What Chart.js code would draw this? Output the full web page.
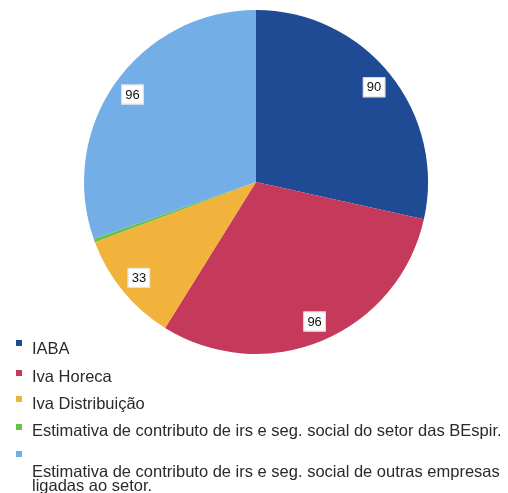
<!DOCTYPE html>
<html>
<head>
<meta charset="utf-8">
<script src="https://cdn.jsdelivr.net/npm/chart.js@4.4.0/dist/chart.umd.min.js"></script>
<style>
  html, body { margin:0; padding:0; background:#fff; }
  #wrap { width:508px; height:493px; }
</style>
</head>
<body>
<div id="wrap"><canvas id="pieChart" width="508" height="493"></canvas></div>
<script>
const labels = [
  'IABA',
  'Iva Horeca',
  'Iva Distribuição',
  'Estimativa de contributo de irs e seg. social do setor das BEspir.',
  'Estimativa de contributo de irs e seg. social de outras empresas ligadas ao setor.'
];
const values = [90, 96, 33, 1, 96];
const colors = ['#1f4a94', '#c53a5a', '#f2b33c', '#6cbf45', '#74aee6'];
// small slices get no value box
const showLabel = [true, true, true, false, true];

// white value boxes placed inside each slice
const valueBoxes = {
  id: 'valueBoxes',
  afterDatasetsDraw(chart) {
    const ctx = chart.ctx;
    const arcs = chart.getDatasetMeta(0).data;
    ctx.save();
    ctx.font = '13px "Liberation Sans", Arial, sans-serif';
    ctx.textAlign = 'center';
    ctx.textBaseline = 'middle';
    arcs.forEach((arc, i) => {
      if (!showLabel[i]) return;
      const p = arc.getProps(['x','y','startAngle','endAngle','outerRadius']);
      const mid = (p.startAngle + p.endAngle) / 2;
      const r = p.outerRadius * 0.88;
      const x = p.x + Math.cos(mid) * r;
      const y = p.y + Math.sin(mid) * r;
      const txt = String(values[i]);
      const w = ctx.measureText(txt).width + 8, h = 20;
      ctx.fillStyle = '#fff';
      ctx.fillRect(x - w/2, y - h/2, w, h);
      ctx.strokeStyle = '#e0e0e0';
      ctx.lineWidth = 1;
      ctx.strokeRect(x - w/2 + 0.5, y - h/2 + 0.5, w - 1, h - 1);
      ctx.fillStyle = '#111';
      ctx.fillText(txt, x, y + 0.5);
    });
    ctx.restore();
  }
};

// legend down the left side, long entries wrap
const sideLegend = {
  id: 'sideLegend',
  afterDraw(chart) {
    const ctx = chart.ctx;
    const rows = [
      { sq: 340, lines: [349] },
      { sq: 370, lines: [377] },
      { sq: 396, lines: [404] },
      { sq: 424, lines: [431] },
      { sq: 451, lines: [472, 486] }
    ];
    ctx.save();
    ctx.font = '16.5px "Liberation Sans", Arial, sans-serif';
    ctx.textBaseline = 'middle';
    rows.forEach((row, i) => {
      ctx.fillStyle = colors[i];
      ctx.fillRect(16, row.sq, 6, 6);
      ctx.fillStyle = '#2a2a2a';
      const text = labels[i];
      if (row.lines.length > 1) {
        const cut = text.indexOf('ligadas');
        ctx.fillText(text.slice(0, cut).trim(), 32, row.lines[0]);
        ctx.fillText(text.slice(cut), 32, row.lines[1]);
      } else {
        ctx.fillText(text, 32, row.lines[0]);
      }
    });
    ctx.restore();
  }
};

new Chart(document.getElementById('pieChart'), {
  type: 'pie',
  data: {
    labels: labels,
    datasets: [{ data: values, backgroundColor: colors, borderWidth: 0 }]
  },
  options: {
    responsive: false,
    animation: false,
    layout: { padding: { top: 10, bottom: 139, left: 84, right: 80 } },
    plugins: { legend: { display: false }, tooltip: { enabled: false } }
  },
  plugins: [valueBoxes, sideLegend]
});
</script>
</body>
</html>
